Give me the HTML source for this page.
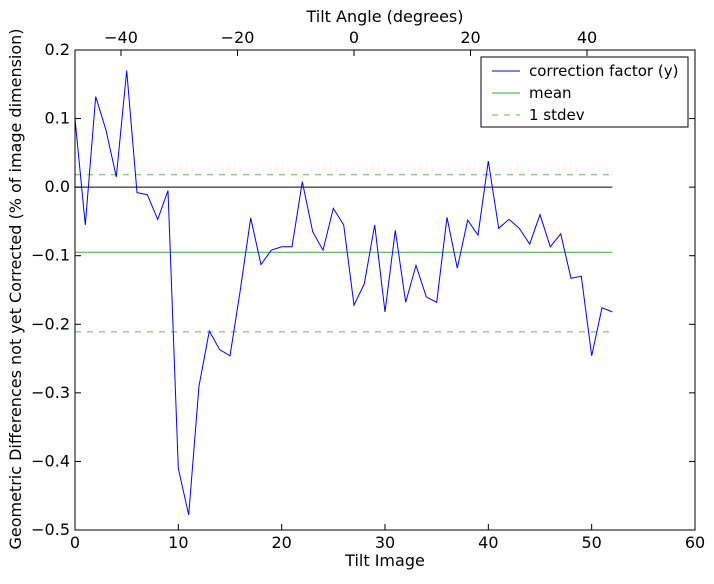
<!DOCTYPE html>
<html><head><meta charset="utf-8"><style>
body{margin:0;background:#fff;}
svg text{font-family:"DejaVu Sans","Liberation Sans",sans-serif;font-size:16px;fill:#000;}
svg text.lg{font-size:15px;}
</style></head><body>
<svg id="s" width="714" height="579" xmlns="http://www.w3.org/2000/svg">
<rect x="0" y="0" width="714" height="579" fill="#fff"/>
<g id="g"></g>
<rect x="75" y="50" width="620" height="480" fill="none" stroke="#000" stroke-width="1"/>
<text x="385" y="566" text-anchor="middle">Tilt Image</text>
<text x="385" y="22" text-anchor="middle">Tilt Angle (degrees)</text>
<text transform="translate(21,289) rotate(-90)" text-anchor="middle">Geometric Differences not yet Corrected (% of image dimension)</text>
<rect x="481" y="57" width="207" height="70" fill="#fff" stroke="#000" stroke-width="1"/>
<line x1="492" y1="71" x2="520" y2="71" stroke="#0000ff"/>
<text class="lg" x="529" y="76">correction factor (y)</text>
<line x1="492" y1="93" x2="520" y2="93" stroke="#3aa73a"/>
<text class="lg" x="529" y="98">mean</text>
<line x1="492" y1="115" x2="520" y2="115" stroke="#3aa73a" stroke-dasharray="6,6" opacity="0.8"/>
<text class="lg" x="529" y="120">1 stdev</text>
</svg>
<script>
var d=[0.10,-0.055,0.132,0.083,0.015,0.17,-0.008,-0.011,-0.047,-0.005,-0.41,-0.478,-0.29,-0.21,-0.237,-0.246,-0.15,-0.045,-0.113,-0.092,-0.087,-0.087,0.008,-0.065,-0.092,-0.031,-0.055,-0.172,-0.141,-0.055,-0.182,-0.063,-0.168,-0.114,-0.16,-0.168,-0.044,-0.118,-0.048,-0.07,0.038,-0.06,-0.047,-0.06,-0.083,-0.04,-0.087,-0.068,-0.133,-0.13,-0.246,-0.176,-0.182];
function X(i){return 75+i*620/60;}function Y(v){return 50+(0.2-v)*480/0.7;}
var h='';
function ln(x1,y1,x2,y2,st){h+='<line x1="'+x1+'" y1="'+y1+'" x2="'+x2+'" y2="'+y2+'" '+st+'/>';}
ln(X(0),Y(0),X(52),Y(0),'stroke="#000"');
ln(X(0),Y(-0.095),X(52),Y(-0.095),'stroke="#3aa73a"');
ln(X(0),Y(0.018),X(52),Y(0.018),'stroke="#3aa73a" stroke-dasharray="6,6" opacity="0.8"');
ln(X(0),Y(-0.211),X(52),Y(-0.211),'stroke="#3aa73a" stroke-dasharray="6,6" opacity="0.8"');
h+='<polyline fill="none" stroke="#0000ff" stroke-width="1" points="'+d.map(function(v,i){return X(i).toFixed(1)+','+Y(v).toFixed(1)}).join(' ')+'"/>';
for(var t=0;t<=60;t+=10){var x=X(t);ln(x,530,x,524,'stroke="#000"');h+='<text x="'+x+'" y="548" text-anchor="middle">'+t+'</text>';}
for(var k=-5;k<=2;k++){var v=k/10,y=Y(v);ln(75,y,81,y,'stroke="#000"');ln(695,y,689,y,'stroke="#000"');
var s=(v<0?'\u2212':'')+Math.abs(v).toFixed(1);h+='<text x="70" y="'+(y+5)+'" text-anchor="end">'+s+'</text>';}
for(var a=-40;a<=40;a+=20){var x=354+a*116.5/20;ln(x,50,x,56,'stroke="#000"');h+='<text x="'+x+'" y="43" text-anchor="middle">'+(a<0?'\u2212'+(-a):a)+'</text>';}
document.getElementById('g').innerHTML=h;
</script>
</body></html>
